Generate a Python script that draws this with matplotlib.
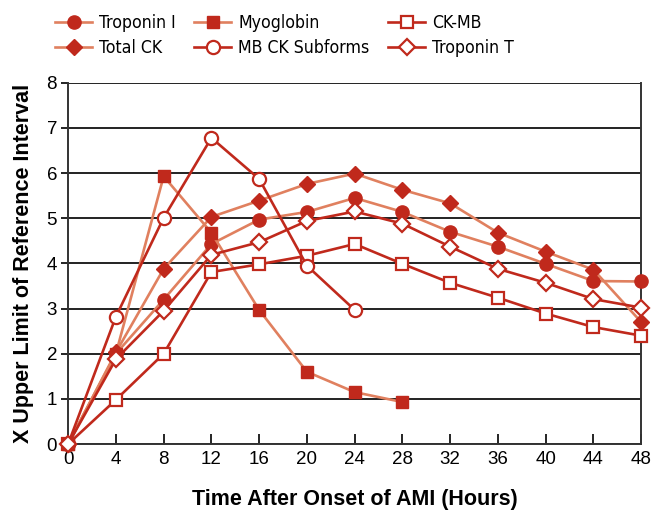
import os
import numpy as np
import matplotlib.pyplot as plt
from matplotlib import font_manager

plt.rcParams['font.family'] = ['Liberation Sans', 'DejaVu Sans']

#################################################
#     Data
#################################################
hours = [0, 4, 8, 12, 16, 20, 24, 28, 32, 36, 40, 44, 48]
troponin_i = [0, 2.0, 3.2, 4.43, 4.97, 5.14, 5.45, 5.14, 4.7, 4.37, 3.99, 3.61, 3.6]
myoglobin = [0, 2.0, 5.93, 4.68, 2.97, 1.6, 1.15, 0.93]
ck_mb = [0, 0.98, 2.0, 3.81, 3.98, 4.17, 4.43, 3.99, 3.57, 3.24, 2.89, 2.59, 2.4]
total_ck = [0, 2.03, 3.88, 5.03, 5.39, 5.76, 5.99, 5.63, 5.33, 4.68, 4.26, 3.86, 2.7]
mb_subforms = [0, 2.82, 5.01, 6.78, 5.87, 3.95, 2.97]
troponin_t = [0, 1.88, 2.95, 4.19, 4.47, 4.94, 5.15, 4.88, 4.37, 3.88, 3.57, 3.21, 3.02]

dark = "#c0291c"
light = "#e0805f"

# narrow face for the legend, if one is installed
files = { os.path.basename( f.fname ): f.fname for f in font_manager.fontManager.ttflist }
leg_font = font_manager.FontProperties( family = "Liberation Sans", size = 12.2 )
for name, size in [ ( "LiberationSansNarrow-Regular.ttf", 14.2 ), ( "NotoSans-Condensed.ttf", 14.2 ), ( "DejaVuSansCondensed.ttf", 12.7 ) ]:
    if name in files:
        leg_font = font_manager.FontProperties( fname = files[ name ], size = size )
        break

fig = plt.figure( figsize = ( 6.55, 5.11 ), dpi = 100 )
ax = fig.add_axes( [ 0.104, 0.131, 0.875, 0.707 ] )

ms = 9.5
lw = 1.9

# Plot series
ax.plot( hours, troponin_i, "-o", color = light, mfc = dark, mec = dark, ms = ms, lw = lw, label = "Troponin I", zorder = 3 )
ax.plot( hours[ :len( myoglobin ) ], myoglobin, "-s", color = light, mfc = dark, mec = dark, ms = ms - 0.5, lw = lw, label = "Myoglobin", zorder = 3 )
ax.plot( hours, ck_mb, "-s", color = dark, mfc = "white", mec = dark, mew = 1.6, ms = ms - 0.5, lw = lw, label = "CK-MB", zorder = 3 )
ax.plot( hours, total_ck, "-D", color = light, mfc = dark, mec = dark, ms = ms - 1, lw = lw, label = "Total CK", zorder = 3 )
ax.plot( hours[ :len( mb_subforms ) ], mb_subforms, "-o", color = dark, mfc = "white", mec = dark, mew = 1.6, ms = ms, lw = lw, label = "MB CK Subforms", zorder = 3 )
ax.plot( hours, troponin_t, "-D", color = dark, mfc = "white", mec = dark, mew = 1.6, ms = ms - 1, lw = lw, label = "Troponin T", zorder = 3 )

ax.set_xlim( 0, 48 )
ax.set_ylim( 0, 8 )
ax.set_xticks( hours )
ax.set_yticks( range( 0, 9 ) )
for line in ax.lines:
    line.set_clip_on( False )

ax.yaxis.grid( True, color = "#222222", lw = 1.4 )
ax.set_axisbelow( True )
for side in [ "left", "right", "bottom" ]:
    ax.spines[ side ].set_color( "#333333" )
    ax.spines[ side ].set_linewidth( 1.4 )
ax.spines[ "top" ].set_visible( False )

ax.tick_params( axis = "x", direction = "in", length = 7, width = 1.2, labelsize = 13.5, pad = 5 )
ax.tick_params( axis = "y", direction = "out", length = 5, width = 1.2, labelsize = 13.5, pad = 3 )

ax.set_xlabel( "Time After Onset of AMI (Hours)", fontsize = 15.5, fontweight = "bold", labelpad = 15 )
ax.set_ylabel( "X Upper Limit of Reference Interval", fontsize = 15.5, fontweight = "bold", labelpad = 9 )

handles, labels = ax.get_legend_handles_labels()
order = [ 0, 3, 1, 4, 2, 5 ]
fig.legend( [ handles[ i ] for i in order ], [ labels[ i ] for i in order ], ncol = 3, loc = "upper left", bbox_to_anchor = ( 0.084, 0.973 ), frameon = False, prop = leg_font, handlelength = 37 / leg_font.get_size_in_points() / 1.389, columnspacing = 1.05, handletextpad = 0.4, labelspacing = 0.42, borderpad = 0, borderaxespad = 0 )

fig.savefig( "out.png", dpi = 100 )
